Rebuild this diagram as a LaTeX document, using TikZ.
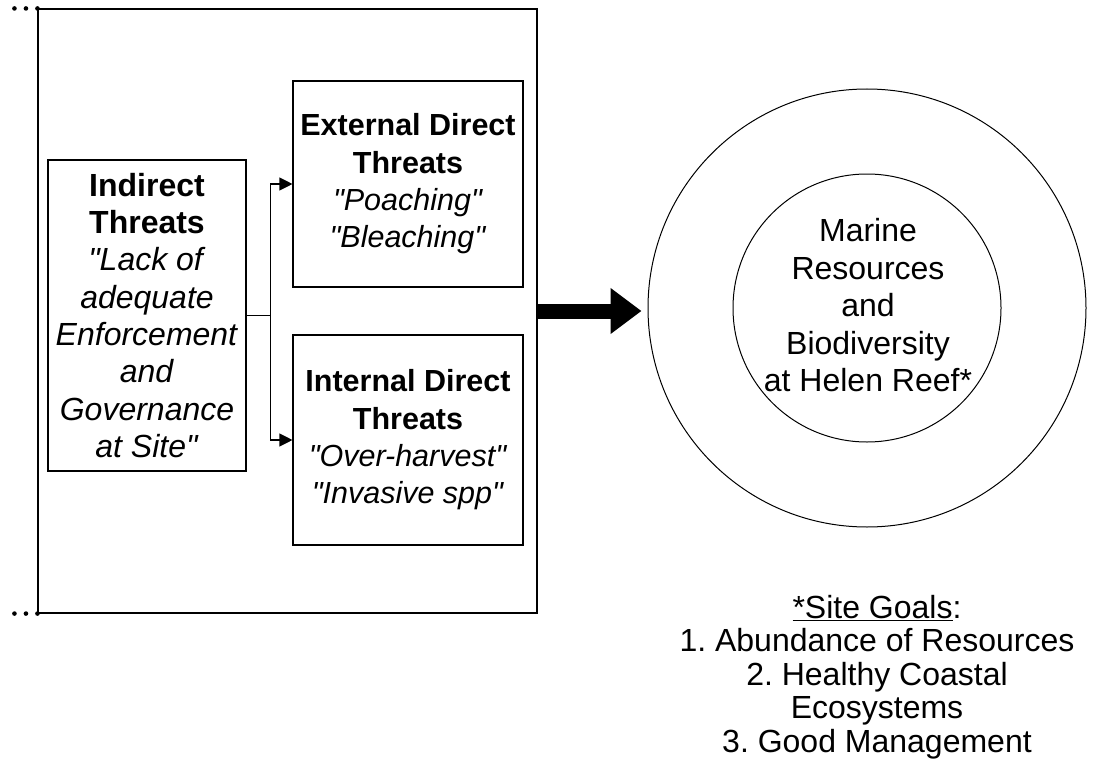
\documentclass[tikz,border=0pt]{standalone}
\usepackage{fontspec}
\setmainfont{Liberation Sans}[Ligatures=TeXOff]
\usetikzlibrary{arrows.meta}
\frenchspacing
\newcommand{\hd}[1]{\textbf{#1}}
\newcommand{\qt}[1]{\textit{#1}}
\tikzset{
    common/.style={draw, line width=1.1pt, rectangle, inner sep=0pt, align=center, font=\fontsize{32}{37.3}\selectfont},
    threat/.style={common, minimum width=230pt, font=\fontsize{30.5}{37.3}\selectfont},
    ring/.style={draw, line width=1pt, circle, inner sep=0pt},
    label text/.style={align=center, font=\fontsize{32}{33.5}\selectfont},
    tip/.style={-{Triangle[length=13pt,width=13pt]}, line width=1.1pt},
    bigarrow/.style={line width=15pt, -{Triangle[length=31pt,width=44pt]}, shorten >=6pt}
}

\begin{document}
\begin{tikzpicture}[x=1pt, y=-1pt]
    \useasboundingbox (0,0) rectangle (1100,773);

    % threats frame with its dots
    \node[draw, line width=1.1pt, minimum width=499pt, minimum height=604pt] (frame) at (287.5,311) {};
    \foreach \dx in {0,11.5,23} {
        \fill ([xshift=-\dx pt]frame.north west) circle (2.3pt);
        \fill ([xshift=-\dx pt]frame.south west) circle (2.3pt);
    }

    \node[common, minimum width=198pt, minimum height=311pt] (indirect) at (147,315.5)
        {\hd{Indirect}\\ \hd{Threats}\\ \qt{"Lack of}\\ \qt{adequate}\\ \qt{Enforcement}\\ \qt{and}\\ \qt{Governance}\\ \qt{at Site"}};
    \node[threat, minimum height=206pt] (ext) at (408,184)
        {\hd{External Direct}\\ \hd{Threats}\\ \qt{"Poaching"}\\ \qt{"Bleaching"}};
    \node[threat, minimum height=210pt] (int) at (408,440)
        {\hd{Internal Direct}\\ \hd{Threats}\\ \qt{"Over-harvest"}\\ \qt{"Invasive spp"}};

    \draw[line width=1.1pt] (indirect.east) -- ++(24,0) coordinate (split);
    \draw[tip] (split) |- (ext.west);
    \draw[tip] (split) |- (int.west);

    % target rings
    \node[ring, minimum size=438pt] (outer) at (867,308) {};
    \node[ring, minimum size=268pt] (inner) at (outer.center) {};
    \node[align=center, font=\fontsize{32}{37.5}\selectfont] (target) at (868,305.5)
        {Marine\\ Resources\\ and\\ Biodiversity\\ at Helen Reef*};

    \draw[bigarrow] (frame.east) -- (frame.east -| outer.west);

    \node[label text] (goals) at (877,677)
        {\underline{*Site Goals}:\\ 1. Abundance of Resources\\ 2. Healthy Coastal\\ Ecosystems\\ 3. Good Management};
\end{tikzpicture}
\end{document}
